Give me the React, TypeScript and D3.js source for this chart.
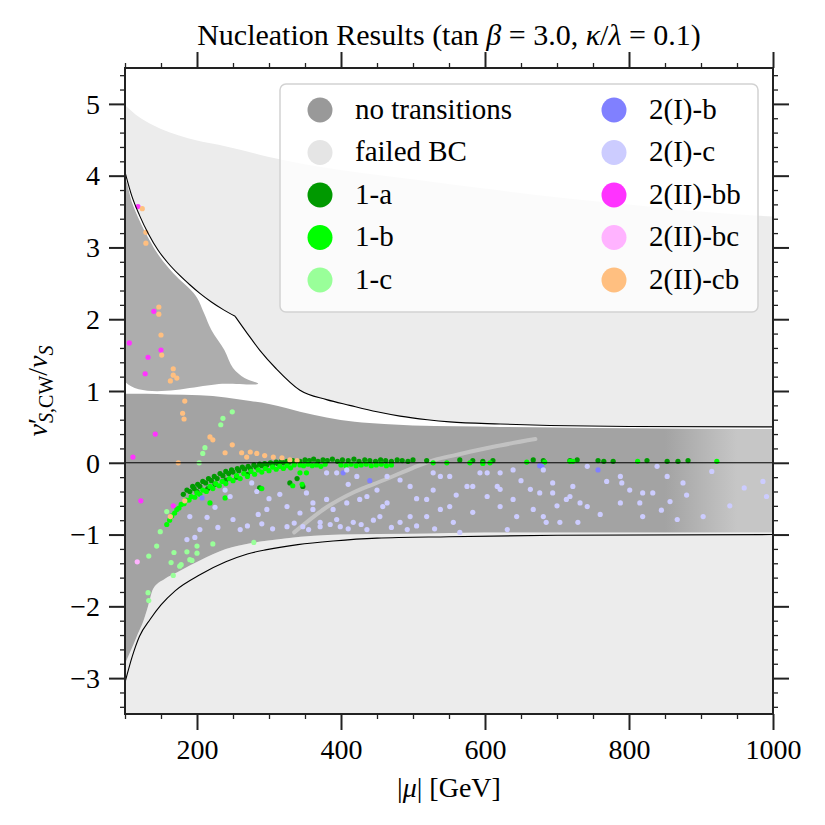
import React, { useEffect, useRef } from 'react';
import * as d3 from 'd3';

type Pt = [number, number];

const FONT = '"Liberation Serif", "DejaVu Serif", serif';

const X_TICKS = [200, 400, 600, 800, 1000];
const Y_TICKS = [-3, -2, -1, 0, 1, 2, 3, 4, 5];

// boundary curves
const UPPER_LEFT: Pt[] = [
  [100, 4.05], [110, 3.7], [120, 3.45], [133, 3.18], [146, 2.96], [160, 2.78], [175, 2.62],
  [190, 2.48], [204, 2.36], [220, 2.24], [237, 2.13], [253, 2.04],
];
const UPPER_RIGHT: Pt[] = [
  [253, 2.04], [270, 1.8], [287, 1.57], [310, 1.31], [343, 1.01], [380, 0.88], [412, 0.8],
  [450, 0.71], [482, 0.65], [520, 0.6], [551, 0.57], [621, 0.54], [690, 0.52], [800, 0.505], [1000, 0.5],
];
const LOWER_CURVE: Pt[] = [
  [100, -3.06], [110, -2.7], [120, -2.42], [135, -2.18], [150, -1.98], [170, -1.78], [204, -1.56],
  [240, -1.38], [270, -1.27], [297, -1.21], [340, -1.14], [389, -1.09], [450, -1.05], [550, -1.03],
  [700, -1.01], [1000, -1.0],
];

// outline of the "failed BC" cloud above the upper curve
const FAILED_TOP: Pt[] = [
  [100, 4.98], [115, 4.85], [130, 4.75], [150, 4.65], [175, 4.56], [200, 4.49], [230, 4.43],
  [260, 4.36], [300, 4.26], [350, 4.16], [400, 4.08], [500, 3.95], [600, 3.82], [700, 3.7],
  [800, 3.6], [900, 3.5], [1000, 3.43],
];

// outline of the "no transitions" cloud
const BAND_TOP: Pt[] = [
  [100, 0.96], [130, 0.96], [160, 0.95], [204, 0.94], [240, 0.91], [274, 0.86], [300, 0.82],
  [325, 0.76], [343, 0.71], [380, 0.63], [419, 0.57], [460, 0.54], [500, 0.52], [560, 0.51],
  [621, 0.5], [700, 0.49], [800, 0.48], [1000, 0.47],
];
const BAND_BOTTOM: Pt[] = [
  [100, -2.8], [107, -2.64], [111, -2.55], [118, -2.38], [125, -2.22], [132, -2.0], [139, -1.76],
  [155, -1.62], [172, -1.53], [190, -1.43], [204, -1.36], [240, -1.2], [274, -1.12], [325, -1.05],
  [400, -1.0], [500, -0.99], [600, -0.97], [1000, -0.97],
];
const LOBE: Pt[] = [
  [100, 3.95], [110, 3.62], [120, 3.38], [133, 3.12], [146, 2.9], [160, 2.72], [175, 2.56],
  [190, 2.42], [200, 2.3], [210, 2.08], [220, 1.85], [238, 1.57], [250, 1.32], [266, 1.18],
  [285, 1.1], [240, 1.1], [100, 1.13],
];
const FAILED_STREAK: Pt[] = [
  [335, -0.97], [380, -0.62], [420, -0.4], [460, -0.24], [500, -0.07], [530, 0.04], [560, 0.11],
  [610, 0.22], [670, 0.33],
];

// sparse coloured classes
const ONE_A: Pt[] = [
  [181, -0.44], [190, -0.4], [196, -0.36], [204, -0.33], [212, -0.28], [220, -0.25], [228, -0.22],
  [236, -0.18], [244, -0.15], [250, -0.13], [258, -0.11], [266, -0.09], [274, -0.08], [282, -0.06],
  [290, -0.04], [297, -0.03], [305, -0.02], [312, -0.01], [320, 0.0], [328, 0.01], [336, 0.01],
  [186, -0.38], [194, -0.33], [201, -0.3], [208, -0.26], [216, -0.22], [224, -0.19], [232, -0.15],
  [240, -0.12], [248, -0.1], [256, -0.08], [263, -0.06], [271, -0.05], [279, -0.03], [287, -0.02],
  [294, -0.01], [302, 0.0], [310, 0.01], [317, 0.02], [325, 0.02], [333, 0.03],
  [200, -0.4], [215, -0.36], [225, -0.3], [240, -0.24], [255, -0.2], [270, -0.16], [287, -0.35],
  [329, -0.28], [339, -0.22], [347, -0.33],
  [343, 0.02], [350, 0.04], [356, 0.03], [362, 0.05], [368, 0.02], [375, 0.04], [381, 0.03],
  [388, 0.05], [395, 0.02], [402, 0.04], [410, 0.03], [418, 0.05], [425, 0.02], [433, 0.04],
  [440, 0.03], [448, 0.02], [455, 0.04], [462, 0.03], [470, 0.02], [478, 0.04], [485, 0.03],
  [493, 0.02], [500, 0.04], [519, 0.03], [565, 0.04], [583, 0.03], [597, 0.02], [611, 0.03],
  [667, 0.04], [681, 0.03], [718, 0.03], [728, 0.04], [757, 0.03], [765, 0.02], [778, 0.02],
  [825, 0.03], [853, 0.02], [868, 0.02], [882, 0.03],
];
const ONE_B: Pt[] = [
  [158, -0.86], [165, -0.74], [172, -0.65], [178, -0.58], [185, -0.52], [192, -0.47], [200, -0.42],
  [208, -0.38], [218, -0.33], [226, -0.29], [235, -0.26], [245, -0.22], [255, -0.18], [265, -0.15],
  [275, -0.12], [285, -0.1], [295, -0.08], [305, -0.06], [315, -0.05], [325, -0.04], [335, -0.03],
  [162, -0.8], [169, -0.7], [175, -0.63], [182, -0.57], [189, -0.52], [197, -0.48], [204, -0.44],
  [213, -0.4], [222, -0.36], [231, -0.32], [240, -0.29], [250, -0.25], [260, -0.22], [270, -0.19],
  [280, -0.16], [290, -0.13], [300, -0.11], [310, -0.09], [320, -0.08], [330, -0.07],
  [239, -0.49], [218, -0.56], [290, -0.36], [333, -0.32], [343, -0.14], [352, -0.14], [346, -0.3],
  [343, -0.03], [348, -0.04], [354, -0.02], [360, -0.04], [366, -0.03], [372, -0.05], [378, -0.02],
  [400, -0.03], [407, -0.04], [414, -0.02], [421, -0.04], [428, -0.03], [435, -0.02], [442, -0.04],
  [449, -0.03], [456, -0.02], [463, -0.04], [470, -0.03],
  [528, 0.0], [547, 0.0], [579, 0.0], [597, -0.01], [607, 0.0], [658, 0.01],
  [683, 0.01], [718, 0.02], [722, 0.02], [812, 0.02], [922, 0.02],
];
const ONE_C: Pt[] = [
  [211, 0.21], [208, 0.13], [203, 0.0], [249, 0.71], [236, 0.62], [233, 0.53],
  [149, -0.96], [144, -1.16], [133, -1.3], [164, -1.39], [176, -1.44], [167, -1.57], [186, -1.24],
  [190, -1.35], [200, -1.16], [222, -1.13], [279, -1.11], [132, -1.81], [133, -1.92], [158, -0.68],
  [168, -1.25], [193, -1.36], [200, -1.26], [178, -1.42],
];
const TWO_I_B: Pt[] = [
  [207, -0.49], [403, -0.14], [440, -0.25], [676, -0.04], [757, -0.1], [679, -0.05],
];
const TWO_I_C: Pt[] = [
  [276, -0.28], [283, -0.4], [239, -0.38], [246, -0.47], [225, -0.62], [190, -0.75], [214, -0.76],
  [204, -0.93], [229, -0.9], [186, -1.07], [197, -1.04], [250, -0.79], [260, -0.93], [285, -0.72],
  [297, -0.65], [315, -0.44], [325, -0.61], [343, -0.7], [361, -0.56], [380, -0.51], [389, -0.65],
  [371, -0.89], [347, -0.89], [325, -0.89], [399, -0.89], [380, -0.14], [394, -0.14], [408, -0.1],
  [422, -0.19], [464, -0.19], [528, -0.14], [551, -0.19], [593, -0.14], [621, -0.14], [639, -0.1],
  [408, -0.56], [371, -0.83], [417, -0.83], [436, -0.93], [454, -0.75], [464, -0.56], [482, -0.83],
  [496, -0.75], [519, -0.75], [538, -0.65], [556, -0.83], [565, -0.97], [583, -0.69], [603, -0.47],
  [617, -0.33], [621, -0.61], [644, -0.75], [667, -0.65], [676, -0.42], [528, -0.38], [496, -0.33],
  [436, -0.47], [575, -0.33], [492, -0.93],
  [603, -0.14], [621, -0.37], [639, -0.51], [694, -0.28], [713, -0.51], [742, -0.61], [551, -0.61],
  [519, -0.51], [458, -0.61], [426, -0.51], [394, -0.79], [361, -0.65], [482, -0.24], [538, -0.19],
  [583, -0.33], [663, -0.37], [681, -0.75], [631, -0.93],
  [681, -0.1], [742, -0.05], [788, -0.19], [790, -0.28], [694, -0.42], [722, -0.33], [769, -0.26],
  [801, -0.38], [819, -0.42], [815, -0.56], [839, -0.05], [853, -0.19], [875, -0.28], [857, -0.54],
  [833, -0.42], [732, -0.56], [718, -0.47], [704, -0.83], [729, -0.83], [685, -0.83], [788, -0.56],
  [915, -0.12], [903, -0.75], [986, -0.26], [991, -0.47], [819, -0.75], [867, -0.79],
  [270, -0.88], [290, -0.85], [305, -0.92], [335, -0.84], [355, -0.93], [385, -0.86], [410, -0.92],
  [428, -0.86], [445, -0.8], [470, -0.9], [505, -0.88], [530, -0.92], [300, -0.5], [352, -0.42],
  [410, -0.3], [450, -0.38], [505, -0.5], [560, -0.45], [650, -0.25], [700, -0.6], [760, -0.72],
  [845, -0.66], [880, -0.45], [940, -0.6], [960, -0.35],
];
const TWO_II_BB: Pt[] = [
  [118, 3.57], [140, 2.11], [106, 1.67], [150, 1.57], [132, 1.47], [128, 1.24], [142, 0.4],
  [111, 0.08], [122, -0.53], [167, -0.6],
];
const TWO_II_BC: Pt[] = [[117, -1.38]];
const TWO_II_CB: Pt[] = [
  [124, 3.54], [129, 3.21], [129, 3.06], [147, 2.17], [147, 2.07], [150, 1.78], [151, 1.5],
  [167, 1.31], [167, 1.22], [172, 1.18], [163, 1.14], [183, 0.86], [180, 0.69], [182, 0.61],
  [218, 0.36], [222, 0.32], [249, 0.25], [174, 0.0], [239, 0.14], [262, 0.14], [274, 0.15],
  [283, 0.13], [294, 0.1], [306, 0.08], [318, 0.07], [329, 0.04], [339, 0.03], [269, 0.08],
  [183, -0.53], [163, -0.75],
];

const LEGEND_LABELS = [
  'no transitions', 'failed BC', '1-a', '1-b', '1-c',
  '2(I)-b', '2(I)-c', '2(II)-bb', '2(II)-bc', '2(II)-cb',
];
const LEGEND_COLORS = [
  '#999999', '#e5e5e5', '#009900', '#00ff00', '#99ff99',
  '#8080ff', '#ccccff', '#ff33ff', '#ffb3ff', '#ffbf80',
];

const W = 825;
const H = 825;
const PL = 125, PR = 773, PT = 68, PB = 714;

const App: React.FC = () => {
  const gRef = useRef<SVGGElement>(null);

  useEffect(() => {
    if (!gRef.current) return;
    const svg = d3.select(gRef.current);
    svg.selectAll('*').remove();

    const x = d3.scaleLinear().domain([100, 1000]).range([PL, PR]);
    const y = d3.scaleLinear().domain([-3.5, 5.5]).range([PB, PT]);

    const defs = svg.append('defs');
    defs.append('clipPath').attr('id', 'plotclip')
      .append('rect').attr('x', PL).attr('y', PT).attr('width', PR - PL).attr('height', PB - PT);
    const grad = defs.append('linearGradient').attr('id', 'bandfill')
      .attr('gradientUnits', 'userSpaceOnUse')
      .attr('x1', x(850)).attr('x2', x(950)).attr('y1', 0).attr('y2', 0);
    grad.append('stop').attr('offset', 0).attr('stop-color', '#a3a3a3');
    grad.append('stop').attr('offset', 1).attr('stop-color', '#c6c6c6');

    const plot = svg.append('g').attr('clip-path', 'url(#plotclip)');

    const lineM = d3.line<Pt>().x(d => x(d[0])).y(d => y(d[1])).curve(d3.curveMonotoneX);
    const asL = (p: string | null) => 'L' + (p ?? '').slice(1);

    // failed BC, upper cloud
    const upperCloud = (lineM(FAILED_TOP) ?? '')
      + asL(lineM([...UPPER_RIGHT].reverse()))
      + asL(lineM([...UPPER_LEFT].reverse())) + 'Z';
    plot.append('path').attr('d', upperCloud).attr('fill', '#ececec');

    // failed BC, lower cloud
    plot.append('path')
      .attr('d', d3.area<Pt>().x(d => x(d[0])).y0(y(-3.5)).y1(d => y(d[1])).curve(d3.curveMonotoneX)(BAND_BOTTOM))
      .attr('fill', '#ececec');

    // no transitions
    plot.append('path')
      .attr('d', d3.line<Pt>().x(d => x(d[0])).y(d => y(d[1])).curve(d3.curveCatmullRomClosed)(LOBE))
      .attr('fill', '#adadad');
    const band = (lineM(BAND_TOP) ?? '') + asL(lineM([...BAND_BOTTOM].reverse())) + 'Z';
    plot.append('path').attr('d', band).attr('fill', 'url(#bandfill)');

    plot.append('path')
      .attr('d', d3.line<Pt>().x(d => x(d[0])).y(d => y(d[1])).curve(d3.curveCatmullRom)(FAILED_STREAK))
      .attr('fill', 'none').attr('stroke', '#c2c2c2').attr('stroke-width', 4)
      .attr('stroke-linecap', 'round');

    const series: [Pt[], string][] = [
      [ONE_A, LEGEND_COLORS[2]], [ONE_B, LEGEND_COLORS[3]], [ONE_C, LEGEND_COLORS[4]],
      [TWO_I_B, LEGEND_COLORS[5]], [TWO_I_C, LEGEND_COLORS[6]], [TWO_II_BB, LEGEND_COLORS[7]],
      [TWO_II_BC, LEGEND_COLORS[8]], [TWO_II_CB, LEGEND_COLORS[9]],
    ];
    series.forEach(([pts, col]) => {
      plot.append('g').selectAll('circle').data(pts).join('circle')
        .attr('cx', d => x(d[0])).attr('cy', d => y(d[1])).attr('r', 2.6).attr('fill', col);
    });

    // reference lines
    plot.append('line').attr('x1', x(100)).attr('x2', x(1000)).attr('y1', y(0)).attr('y2', y(0))
      .attr('stroke', '#000').attr('stroke-width', 1);
    [UPPER_LEFT, UPPER_RIGHT, LOWER_CURVE].forEach(c => {
      plot.append('path').attr('d', lineM(c)).attr('fill', 'none')
        .attr('stroke', '#000').attr('stroke-width', 1.1);
    });

    // axes
    const minus = (v: number) => (v < 0 ? '\u2212' + Math.abs(v) : String(v));
    const xMinor = d3.range(100, 1001, 50).filter(v => v % 200 !== 0);
    const yMinor = d3.range(-34, 55, 2).map(v => v / 10).filter(v => Math.abs(v - Math.round(v)) > 1e-6);

    const addAxis = (gen: d3.Axis<number>, tx: number, ty: number, w: number) => {
      const g = svg.append('g').attr('transform', `translate(${tx},${ty})`) as any;
      g.call(gen as any);
      g.select('.domain').remove();
      g.selectAll('line').attr('stroke', '#222').attr('stroke-width', w);
      g.selectAll('text').attr('font-family', FONT).attr('font-size', 28).attr('fill', '#000');
      return g;
    };

    const bx = addAxis(d3.axisBottom<number>(x).tickValues(X_TICKS).tickSize(16).tickPadding(6).tickFormat(v => minus(v)), 0, PB, 2);
    bx.selectAll('text').attr('dy', '0.82em');
    addAxis(d3.axisBottom<number>(x).tickValues(xMinor).tickSize(5).tickFormat(() => ''), 0, PB, 1.3);
    addAxis(d3.axisTop<number>(x).tickValues(X_TICKS).tickSize(16).tickFormat(() => ''), 0, PT, 2);
    addAxis(d3.axisTop<number>(x).tickValues(xMinor).tickSize(5).tickFormat(() => ''), 0, PT, 1.3);
    const ly = addAxis(d3.axisLeft<number>(y).tickValues(Y_TICKS).tickSize(16).tickPadding(9).tickFormat(v => minus(v)), PL, 0, 2);
    ly.selectAll('text').attr('dy', '0.33em');
    addAxis(d3.axisLeft<number>(y).tickValues(yMinor).tickSize(5).tickFormat(() => ''), PL, 0, 1.3);
    addAxis(d3.axisRight<number>(y).tickValues(Y_TICKS).tickSize(16).tickFormat(() => ''), PR, 0, 2);
    addAxis(d3.axisRight<number>(y).tickValues(yMinor).tickSize(5).tickFormat(() => ''), PR, 0, 1.3);

    svg.append('rect').attr('x', PL).attr('y', PT).attr('width', PR - PL).attr('height', PB - PT)
      .attr('fill', 'none').attr('stroke', '#222').attr('stroke-width', 2);

    // legend
    const lg = svg.append('g');
    lg.append('rect').attr('x', 280).attr('y', 84).attr('width', 478).attr('height', 228)
      .attr('rx', 6).attr('fill', '#fff').attr('fill-opacity', 0.8)
      .attr('stroke', '#d2d2d2').attr('stroke-width', 1.5);
    LEGEND_LABELS.forEach((lab, i) => {
      const col = Math.floor(i / 5);
      const row = i % 5;
      const cx = col === 0 ? 320 : 614;
      const cy = 110 + row * 42.5;
      lg.append('circle').attr('cx', cx).attr('cy', cy).attr('r', 12.5).attr('fill', LEGEND_COLORS[i]);
      lg.append('text').attr('x', cx + 35).attr('y', cy + 8.5)
        .attr('font-family', FONT).attr('font-size', 29).text(lab);
    });
  }, []);

  return (
    <svg width={W} height={H} style={{ position: 'absolute', left: 0, top: 0, background: '#fff' }}>
      <g ref={gRef} />
      <text x={449} y={45} textAnchor="middle" fontFamily={FONT} fontSize={30}>
        Nucleation Results (tan <tspan fontStyle="italic">β</tspan> = 3.0, <tspan fontStyle="italic">κ</tspan>/<tspan fontStyle="italic">λ</tspan> = 0.1)
      </text>
      <text x={449} y={797} textAnchor="middle" fontFamily={FONT} fontSize={28}>
        |<tspan fontStyle="italic">μ</tspan>| [GeV]
      </text>
      <text transform="translate(47,391) rotate(-90)" textAnchor="middle" fontFamily={FONT} fontSize={28}>
        <tspan fontStyle="italic">v</tspan>
        <tspan>′</tspan>
        <tspan dx={-5} dy={6} fontSize={20} fontStyle="italic">S</tspan>
        <tspan fontSize={20}>,CW</tspan>
        <tspan dy={-6}>/</tspan>
        <tspan fontStyle="italic">v</tspan>
        <tspan dy={6} fontSize={20} fontStyle="italic">S</tspan>
      </text>
    </svg>
  );
};

export default App;
